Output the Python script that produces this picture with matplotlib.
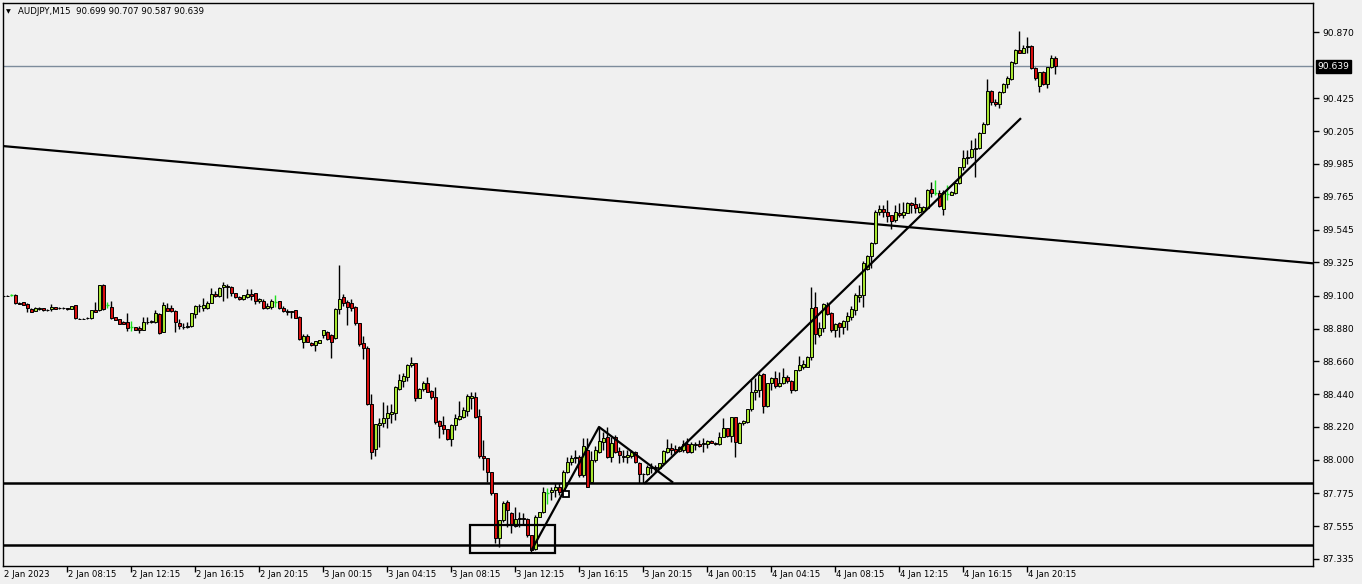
import matplotlib
matplotlib.use("Agg")
import matplotlib.pyplot as plt
from matplotlib.patches import Rectangle
from matplotlib.transforms import blended_transform_factory

# ---------------- data (AUDJPY M15 candles) ----------------
opens = [89.101, 89.101, 89.106, 89.106, 89.055, 89.057, 89.045, 89.012, 89.000, 89.010,
         89.018, 89.005, 89.010, 89.025, 89.018, 89.018, 89.016, 89.014, 89.038, 88.945,
         88.946, 88.949, 88.949, 89.005, 89.003, 89.173, 89.036, 89.022, 88.958, 88.945,
         88.926, 88.924, 88.891, 88.891, 88.882, 88.873, 88.926, 88.922, 88.926, 88.980,
         88.859, 89.020, 89.016, 89.000, 88.916, 88.893, 88.893, 88.900, 88.980, 89.032,
         89.020, 89.020, 89.054, 89.112, 89.101, 89.157, 89.166, 89.159, 89.119, 89.094,
         89.077, 89.094, 89.112, 89.119, 89.065, 89.065, 89.020, 89.027, 89.061, 89.065,
         89.020, 89.000, 88.990, 89.005, 88.960, 88.788, 88.833, 88.786, 88.770, 88.786,
         88.837, 88.859, 88.837, 88.815, 89.012, 89.090, 89.057, 89.050, 89.027, 88.916,
         88.781, 88.748, 88.372, 88.070, 88.233, 88.245, 88.278, 88.307, 88.316, 88.475,
         88.531, 88.553, 88.638, 88.649, 88.416, 88.473, 88.515, 88.461, 88.419, 88.260,
         88.233, 88.206, 88.137, 88.231, 88.274, 88.289, 88.329, 88.414, 88.421, 88.294,
         88.025, 88.010, 87.916, 87.775, 87.473, 87.596, 87.719, 87.645, 87.556, 87.601,
         87.611, 87.601, 87.495, 87.399, 87.618, 87.648, 87.779, 87.782, 87.797, 87.819,
         87.786, 87.916, 87.985, 88.010, 88.021, 87.898, 88.066, 87.853, 87.998, 88.054,
         88.121, 88.155, 88.021, 88.155, 88.061, 88.025, 88.016, 88.025, 88.054, 87.980,
         87.904, 87.904, 87.943, 87.954, 87.943, 87.976, 88.054, 88.077, 88.072, 88.061,
         88.066, 88.106, 88.054, 88.099, 88.106, 88.106, 88.106, 88.128, 88.115, 88.106,
         88.155, 88.211, 88.159, 88.285, 88.115, 88.245, 88.255, 88.339, 88.457, 88.468,
         88.573, 88.363, 88.513, 88.547, 88.497, 88.513, 88.553, 88.531, 88.468, 88.602,
         88.624, 88.624, 88.692, 89.027, 88.837, 88.882, 89.038, 88.987, 88.871, 88.916,
         88.893, 88.931, 88.960, 89.005, 89.094, 89.106, 89.278, 89.367, 89.452, 89.660,
         89.681, 89.660, 89.642, 89.609, 89.658, 89.642, 89.658, 89.725, 89.716, 89.665,
         89.671, 89.687, 89.815, 89.788, 89.788, 89.681, 89.783, 89.777, 89.792, 89.855,
         89.966, 90.023, 90.030, 90.083, 90.090, 90.195, 90.253, 90.476, 90.399, 90.385,
         90.470, 90.521, 90.555, 90.664, 90.750, 90.731, 90.768, 90.776, 90.627, 90.510,
         90.600, 90.521, 90.633, 90.699]
highs = [89.108, 89.106, 89.110, 89.112, 89.057, 89.059, 89.052, 89.016, 89.027, 89.022,
         89.020, 89.010, 89.047, 89.027, 89.022, 89.022, 89.018, 89.034, 89.040, 88.948,
         88.948, 88.955, 89.005, 89.059, 89.175, 89.179, 89.059, 89.065, 88.960, 88.947,
         88.928, 88.987, 88.933, 88.893, 88.898, 88.960, 88.960, 88.935, 89.005, 88.987,
         89.057, 89.050, 89.038, 89.003, 88.942, 88.920, 88.926, 88.985, 89.038, 89.045,
         89.087, 89.067, 89.150, 89.132, 89.161, 89.191, 89.177, 89.166, 89.121, 89.096,
         89.108, 89.144, 89.144, 89.121, 89.085, 89.077, 89.054, 89.077, 89.106, 89.067,
         89.032, 89.010, 89.000, 89.007, 88.962, 88.844, 88.844, 88.792, 88.799, 88.806,
         88.873, 88.862, 88.844, 89.020, 89.307, 89.112, 89.072, 89.077, 89.030, 88.918,
         88.830, 88.763, 88.439, 88.240, 88.282, 88.390, 88.367, 88.372, 88.495, 88.573,
         88.580, 88.643, 88.692, 88.652, 88.480, 88.531, 88.555, 88.465, 88.486, 88.265,
         88.294, 88.208, 88.240, 88.307, 88.396, 88.352, 88.441, 88.455, 88.453, 88.341,
         88.133, 88.012, 87.918, 87.778, 87.598, 87.723, 87.730, 87.652, 87.685, 87.652,
         87.641, 87.606, 87.498, 87.629, 87.652, 87.815, 87.808, 87.819, 87.842, 87.842,
         87.931, 88.021, 88.032, 88.066, 88.032, 88.144, 88.144, 88.061, 88.094, 88.222,
         88.188, 88.222, 88.155, 88.166, 88.088, 88.066, 88.066, 88.066, 88.058, 87.983,
         87.909, 87.965, 87.976, 87.965, 87.978, 88.066, 88.137, 88.110, 88.099, 88.092,
         88.133, 88.144, 88.121, 88.121, 88.133, 88.144, 88.133, 88.133, 88.121, 88.188,
         88.278, 88.215, 88.287, 88.289, 88.255, 88.267, 88.341, 88.535, 88.547, 88.584,
         88.580, 88.515, 88.557, 88.598, 88.591, 88.614, 88.569, 88.535, 88.604, 88.696,
         88.669, 88.694, 89.161, 89.128, 88.926, 89.050, 89.061, 88.990, 88.916, 88.926,
         88.938, 88.994, 89.032, 89.117, 89.173, 89.334, 89.374, 89.460, 89.676, 89.709,
         89.709, 89.743, 89.645, 89.709, 89.725, 89.732, 89.732, 89.732, 89.765, 89.721,
         89.700, 89.815, 89.866, 89.877, 89.810, 89.810, 89.844, 89.803, 89.864, 89.966,
         90.079, 90.079, 90.146, 90.157, 90.201, 90.268, 90.553, 90.481, 90.419, 90.476,
         90.530, 90.575, 90.678, 90.754, 90.877, 90.783, 90.839, 90.781, 90.638, 90.602,
         90.609, 90.636, 90.716, 90.707]
lows = [89.094, 89.096, 89.102, 89.047, 89.045, 89.038, 88.994, 88.992, 88.996, 89.008,
        89.001, 89.000, 88.996, 89.010, 89.014, 89.014, 89.008, 89.012, 88.947, 88.942,
        88.942, 88.944, 88.947, 88.994, 89.000, 89.003, 89.016, 88.947, 88.936, 88.911,
        88.909, 88.864, 88.866, 88.868, 88.849, 88.871, 88.909, 88.920, 88.920, 88.844,
        88.855, 88.998, 88.992, 88.855, 88.877, 88.877, 88.886, 88.893, 88.953, 88.994,
        88.998, 89.012, 89.050, 89.090, 89.094, 89.067, 89.087, 89.099, 89.088, 89.075,
        89.075, 89.083, 89.072, 89.043, 89.050, 89.010, 89.010, 89.010, 89.027, 89.014,
        88.994, 88.971, 88.949, 88.951, 88.806, 88.752, 88.788, 88.765, 88.732, 88.784,
        88.819, 88.806, 88.685, 88.810, 88.976, 89.034, 88.904, 89.000, 88.906, 88.763,
        88.676, 88.367, 88.005, 88.027, 88.088, 88.222, 88.211, 88.249, 88.267, 88.468,
        88.490, 88.531, 88.620, 88.394, 88.412, 88.461, 88.455, 88.406, 88.238, 88.148,
        88.173, 88.135, 88.094, 88.200, 88.267, 88.278, 88.296, 88.339, 88.278, 88.014,
        87.931, 87.853, 87.764, 87.444, 87.417, 87.584, 87.551, 87.507, 87.551, 87.551,
        87.562, 87.484, 87.383, 87.394, 87.616, 87.645, 87.703, 87.730, 87.752, 87.764,
        87.784, 87.909, 87.965, 87.976, 87.886, 87.886, 87.815, 87.850, 87.987, 88.043,
        88.066, 88.010, 87.987, 88.043, 87.980, 87.987, 87.980, 88.010, 87.976, 87.846,
        87.842, 87.898, 87.909, 87.920, 87.940, 87.972, 88.043, 88.032, 88.043, 88.054,
        88.054, 88.043, 88.043, 88.066, 88.084, 88.054, 88.077, 88.110, 88.099, 88.099,
        88.151, 88.155, 88.121, 88.016, 88.110, 88.233, 88.249, 88.329, 88.401, 88.423,
        88.312, 88.356, 88.468, 88.480, 88.490, 88.509, 88.517, 88.446, 88.461, 88.598,
        88.607, 88.620, 88.669, 88.777, 88.826, 88.859, 88.971, 88.859, 88.822, 88.826,
        88.844, 88.871, 88.938, 88.971, 89.061, 89.023, 89.273, 89.285, 89.445, 89.642,
        89.631, 89.597, 89.546, 89.597, 89.631, 89.620, 89.654, 89.654, 89.654, 89.654,
        89.667, 89.681, 89.765, 89.777, 89.698, 89.642, 89.743, 89.774, 89.784, 89.850,
        89.944, 89.985, 90.023, 89.899, 90.083, 90.191, 90.246, 90.380, 90.374, 90.358,
        90.463, 90.497, 90.548, 90.656, 90.728, 90.727, 90.727, 90.620, 90.548, 90.470,
        90.514, 90.492, 90.629, 90.587]
closes = [89.102, 89.100, 89.106, 89.052, 89.047, 89.040, 89.016, 88.994, 89.018, 89.020,
          89.003, 89.006, 89.027, 89.014, 89.017, 89.019, 89.010, 89.032, 88.949, 88.946,
          88.945, 88.950, 89.003, 88.994, 89.171, 89.010, 89.036, 88.953, 88.938, 88.913,
          88.912, 88.886, 88.891, 88.871, 88.873, 88.924, 88.927, 88.933, 88.985, 88.849,
          89.040, 89.000, 88.996, 88.924, 88.900, 88.894, 88.900, 88.983, 89.032, 89.031,
          89.038, 89.050, 89.110, 89.099, 89.155, 89.173, 89.157, 89.117, 89.090, 89.077,
          89.106, 89.112, 89.101, 89.065, 89.077, 89.020, 89.034, 89.065, 89.061, 89.016,
          88.998, 88.990, 88.998, 88.953, 88.808, 88.833, 88.792, 88.772, 88.797, 88.804,
          88.871, 88.808, 88.788, 89.012, 89.079, 89.054, 89.027, 89.020, 88.920, 88.777,
          88.748, 88.372, 88.054, 88.238, 88.247, 88.278, 88.312, 88.319, 88.486, 88.535,
          88.560, 88.636, 88.649, 88.416, 88.475, 88.517, 88.457, 88.419, 88.251, 88.229,
          88.204, 88.137, 88.235, 88.280, 88.294, 88.334, 88.426, 88.428, 88.287, 88.023,
          88.010, 87.920, 87.775, 87.473, 87.596, 87.712, 87.663, 87.562, 87.601, 87.611,
          87.601, 87.495, 87.395, 87.618, 87.648, 87.782, 87.779, 87.797, 87.815, 87.786,
          87.916, 87.985, 88.010, 88.021, 87.898, 88.092, 87.819, 87.998, 88.066, 88.128,
          88.144, 88.021, 88.110, 88.054, 88.032, 88.016, 88.032, 88.054, 87.987, 87.904,
          87.905, 87.949, 87.954, 87.943, 87.976, 88.059, 88.077, 88.066, 88.054, 88.084,
          88.106, 88.054, 88.106, 88.106, 88.092, 88.115, 88.128, 88.115, 88.106, 88.151,
          88.211, 88.159, 88.285, 88.121, 88.245, 88.262, 88.339, 88.453, 88.468, 88.569,
          88.361, 88.513, 88.547, 88.497, 88.513, 88.553, 88.531, 88.468, 88.602, 88.636,
          88.641, 88.692, 89.016, 88.842, 88.882, 89.045, 88.978, 88.871, 88.911, 88.893,
          88.931, 88.967, 89.010, 89.106, 89.106, 89.322, 89.367, 89.452, 89.665, 89.681,
          89.660, 89.636, 89.604, 89.660, 89.640, 89.665, 89.725, 89.709, 89.687, 89.694,
          89.694, 89.810, 89.788, 89.788, 89.703, 89.799, 89.783, 89.799, 89.855, 89.962,
          90.027, 90.034, 90.083, 90.090, 90.195, 90.253, 90.476, 90.399, 90.385, 90.466,
          90.519, 90.560, 90.671, 90.750, 90.731, 90.761, 90.778, 90.627, 90.560, 90.600,
          90.521, 90.633, 90.694, 90.639]

price_ticks = [90.870, 90.425, 90.205, 89.985, 89.765, 89.545, 89.325, 89.100,
               88.880, 88.660, 88.440, 88.220, 88.000, 87.775, 87.555, 87.335]
time_tick_bars = [0, 16, 32, 48, 64, 80, 96, 112, 128, 144, 160, 176, 192, 208, 224, 240, 256]
time_labels = ["2 Jan 2023", "2 Jan 08:15", "2 Jan 12:15", "2 Jan 16:15", "2 Jan 20:15",
               "3 Jan 00:15", "3 Jan 04:15", "3 Jan 08:15", "3 Jan 12:15", "3 Jan 16:15",
               "3 Jan 20:15", "4 Jan 00:15", "4 Jan 04:15", "4 Jan 08:15", "4 Jan 12:15",
               "4 Jan 16:15", "4 Jan 20:15"]
header_text = "AUDJPY,M15  90.699 90.707 90.587 90.639"
last_price = 90.639
level_lines = [87.844, 87.428]
long_line_x, long_line_y = [-0.1, 327.4], [90.105, 89.318]
wedge_x, wedge_y = [132.2, 148.9, 167.2], [87.401, 88.220, 87.851]
channel_x, channel_y = [160.4, 254.2], [87.844, 90.287]
box_x, box_y = [116.7, 137.9], [87.374, 87.562]
anchor_x, anchor_y = [140.7], [87.770]

# ---------------- drawing ----------------
BG = "#f0f0f0"
BULL = "#a8e632"
BEAR = "#d80f0f"
LIME = "#1ee01e"

fig = plt.figure(figsize=(13.62, 5.84), dpi=100, facecolor=BG)
ax = fig.add_axes([3 / 1362, 18 / 584, 1310 / 1362, 563 / 584])
ax.set_facecolor(BG)
ax.set_xlim(-0.1, 327.4)
ax.set_ylim(87.287, 91.065)

# price line
ax.axhline(last_price, color="#7d8c9c", lw=1.0, zorder=1)

# horizontal levels
for lv in level_lines:
    ax.axhline(lv, color="black", lw=1.8, zorder=2)

# trend lines
ax.plot(long_line_x, long_line_y, color="black", lw=1.6, zorder=2, solid_capstyle="butt")
ax.plot(wedge_x, wedge_y, color="black", lw=1.6, zorder=5)
ax.plot(channel_x, channel_y, color="black", lw=1.6, zorder=5)
ax.add_patch(Rectangle((box_x[0], box_y[0]), box_x[1] - box_x[0], box_y[1] - box_y[0],
                       fill=False, ec="black", lw=1.6, zorder=5))
ax.plot(anchor_x, anchor_y, marker="s", ms=4.5, mfc="white", mec="black", mew=1.3,
        ls="none", zorder=6)

# candles
bw = 0.6
for i, (o, h, l, c) in enumerate(zip(opens, highs, lows, closes)):
    if o == c:
        ax.vlines(i, l, h, color=LIME, lw=1.0, zorder=3)
        ax.hlines(o, i - 0.4, i + 0.4, color=LIME, lw=1.0, zorder=3)
        continue
    ax.vlines(i, l, h, color="black", lw=1.0, zorder=3)
    lo_, hi_ = min(o, c), max(o, c)
    ax.add_patch(Rectangle((i - bw / 2, lo_), bw, hi_ - lo_,
                           fc=BULL if c > o else BEAR, ec="black", lw=0.7, zorder=4))

# axes styling
for s in ax.spines.values():
    s.set_color("black")
    s.set_linewidth(1.0)

ax.yaxis.tick_right()
ax.set_yticks(price_ticks)
ax.set_yticklabels([f"{v:.3f}" for v in price_ticks])
ax.tick_params(axis="y", direction="out", length=4, width=1, pad=3, labelsize=6.6,
               colors="black", left=False)
ax.set_xticks(time_tick_bars[1:])
ax.set_xticklabels([])
ax.tick_params(axis="x", direction="out", length=4, width=1, top=False)

trans = blended_transform_factory(ax.transData, ax.transAxes)
for xb, lab in zip(time_tick_bars, time_labels):
    ax.annotate(lab, xy=(xb, 0), xycoords=trans, xytext=(0.5, -3.2),
                textcoords="offset points", ha="left", va="top", fontsize=6.1,
                color="black", annotation_clip=False)

# current price tag
ax.annotate(f"{last_price:.3f}", xy=(1.0, last_price),
            xycoords=blended_transform_factory(ax.transAxes, ax.transData),
            xytext=(3.2, 0), textcoords="offset points", ha="left", va="center",
            fontsize=6.6, color="white", annotation_clip=False,
            bbox=dict(boxstyle="square,pad=0.18", fc="black", ec="black"))

# header
ax.annotate("\u25BC", xy=(0, 1), xycoords="axes fraction", xytext=(2.5, -6),
            textcoords="offset points", ha="left", va="center", fontsize=4.5, color="black")
ax.annotate(header_text, xy=(0, 1), xycoords="axes fraction", xytext=(11, -6),
            textcoords="offset points", ha="left", va="center", fontsize=6.2, color="black")

fig.savefig("out.png", dpi=100, facecolor=BG)
